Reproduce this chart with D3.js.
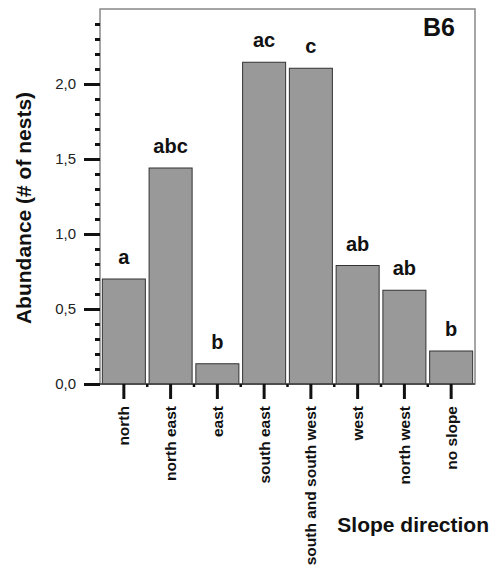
<!DOCTYPE html>
<html>
<head>
<meta charset="utf-8">
<script src="https://cdn.jsdelivr.net/npm/d3@7"></script>
<style>
  body { margin: 0; background: #fff; }
  svg, svg text { font-family: "Liberation Sans", Arial, sans-serif; }
</style>
</head>
<body>
<svg id="chart" width="492" height="574"></svg>
<script>
// data
const categories = ["north", "north east", "east", "south east", "south and south west", "west", "north west", "no slope"];
const abundance = [0.70, 1.44, 0.135, 2.145, 2.105, 0.79, 0.625, 0.22];
const groups = ["a", "abc", "b", "ac", "c", "ab", "ab", "b"];
const majorTicks = [0, 0.5, 1.0, 1.5, 2.0];
const minorTicks = d3.range(0, 25).map(i => i / 10).filter(v => Math.round(v * 10) % 5 !== 0);

const M = { left: 100, right: 475, top: 9, bottom: 384 };
const svg = d3.select("#chart");

const x = d3.scaleBand().domain(categories).range([M.left, M.right]).paddingInner(0.08).paddingOuter(0.05);
const y = d3.scaleLinear().domain([0, 2.5]).range([M.bottom, M.top]);

// frame
svg.append("rect")
  .attr("x", M.left).attr("y", M.top)
  .attr("width", M.right - M.left).attr("height", M.bottom - M.top)
  .attr("fill", "none").attr("stroke", "#888").attr("stroke-width", 1.5);

// bars
svg.append("g").selectAll("rect")
  .data(categories)
  .join("rect")
  .attr("x", d => x(d))
  .attr("width", x.bandwidth())
  .attr("y", (d, i) => y(abundance[i]))
  .attr("height", (d, i) => y(0) - y(abundance[i]))
  .attr("fill", "#999")
  .attr("stroke", "#333")
  .attr("stroke-width", 1);

// significance letters
svg.append("g").selectAll("text")
  .data(categories)
  .join("text")
  .attr("x", d => x(d) + x.bandwidth() / 2)
  .attr("y", (d, i) => y(abundance[i]) - 15)
  .attr("text-anchor", "middle")
  .attr("font-size", 20)
  .attr("font-weight", "bold")
  .attr("fill", "#111")
  .text((d, i) => groups[i]);

// y axis, major
const yAxis = d3.axisLeft(y).tickValues(majorTicks).tickSize(16).tickPadding(8)
  .tickFormat(d => d3.format(".1f")(d).replace(".", ","));
const gy = svg.append("g").attr("transform", `translate(${M.left},0)`).call(yAxis)
  .attr("font-family", null);
gy.select(".domain").remove();
gy.selectAll(".tick line").attr("stroke", "#111").attr("stroke-width", 3);
gy.selectAll(".tick text").attr("font-size", 15).attr("fill", "#222");

// y axis, minor
const gym = svg.append("g").attr("transform", `translate(${M.left},0)`)
  .call(d3.axisLeft(y).tickValues(minorTicks).tickSize(5).tickFormat(""));
gym.select(".domain").remove();
gym.selectAll(".tick line").attr("stroke", "#111").attr("stroke-width", 3);

// baseline
svg.append("line")
  .attr("x1", M.left).attr("x2", M.right)
  .attr("y1", y(0)).attr("y2", y(0))
  .attr("stroke", "#444").attr("stroke-width", 1.5);

// x axis
const gx = svg.append("g").attr("transform", `translate(0,${M.bottom})`)
  .call(d3.axisBottom(x).tickSize(15).tickPadding(8))
  .attr("font-family", null);
gx.select(".domain").remove();
gx.selectAll(".tick line").attr("stroke", "#111").attr("stroke-width", 3);
gx.selectAll(".tick text")
  .attr("transform", "rotate(-90)")
  .attr("text-anchor", "end")
  .attr("x", -22).attr("y", 0).attr("dy", "0.36em")
  .attr("font-size", 15.5).attr("font-weight", "bold").attr("fill", "#111");

// small ticks between bars
svg.append("g").selectAll("line")
  .data(categories.slice(1))
  .join("line")
  .attr("x1", d => x(d) - x.step() * x.paddingInner() / 2)
  .attr("x2", d => x(d) - x.step() * x.paddingInner() / 2)
  .attr("y1", y(0)).attr("y2", y(0) + 3)
  .attr("stroke", "#111").attr("stroke-width", 2.5);

// titles
svg.append("text")
  .attr("transform", "translate(31,208) rotate(-90)")
  .attr("text-anchor", "middle")
  .attr("font-size", 21).attr("font-weight", "bold").attr("fill", "#111")
  .text("Abundance (# of nests)");

svg.append("text")
  .attr("x", 489).attr("y", 532)
  .attr("text-anchor", "end")
  .attr("font-size", 21).attr("font-weight", "bold").attr("fill", "#111")
  .text("Slope direction");

svg.append("text")
  .attr("x", 455).attr("y", 36)
  .attr("text-anchor", "end")
  .attr("font-size", 25).attr("font-weight", "bold").attr("fill", "#111")
  .text("B6");
</script>
</body>
</html>
